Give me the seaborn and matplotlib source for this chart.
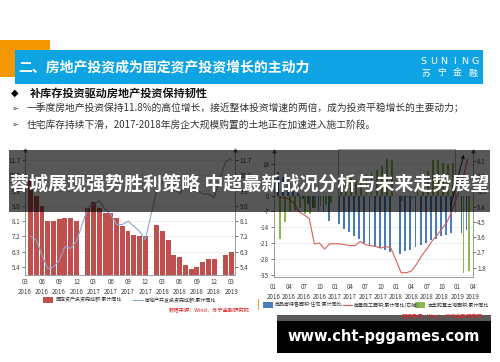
import matplotlib
matplotlib.use("Agg")
import matplotlib.pyplot as plt
import seaborn as sns
import pandas as pd
import numpy as np
from matplotlib.patches import Rectangle

sns.set_theme(style="white")
plt.rcParams['font.family'] = ['Noto Sans CJK SC', 'DejaVu Sans']
plt.rcParams['axes.unicode_minus'] = False

W, H = 500, 362

# ---------------- data ----------------
# left chart (monthly, Jan missing)
L_DATES = ['2016-04', '2016-05', '2016-06', '2016-07', '2016-08', '2016-09', '2016-10', '2016-11', '2016-12',
           '2017-02', '2017-03', '2017-04', '2017-05', '2017-06', '2017-07', '2017-08', '2017-09', '2017-10', '2017-11', '2017-12',
           '2018-02', '2018-03', '2018-04', '2018-05', '2018-06', '2018-07', '2018-08', '2018-09', '2018-10', '2018-11', '2018-12',
           '2019-02', '2019-03']
fai_yoy = [10.5, 9.6, 9.0, 8.1, 8.1, 8.2, 8.3, 8.3, 8.1,
           8.9, 9.2, 8.9, 8.6, 8.6, 8.3, 7.8, 7.5, 7.3, 7.2, 7.2,
           7.9, 7.5, 7.0, 6.1, 6.0, 5.5, 5.3, 5.4, 5.7, 5.9, 5.9,
           6.1, 6.3]
re_inv_yoy = [7.2, 7.0, 6.1, 5.3, 5.4, 5.8, 6.6, 6.5, 6.9,
              8.9, 9.1, 9.3, 8.8, 8.5, 7.9, 7.9, 8.1, 7.8, 7.5, 7.0,
              9.9, 10.4, 10.3, 10.2, 9.7, 10.2, 10.1, 9.9, 9.7, 9.7, 9.5,
              11.6, 11.8]
L_TICKS = ['03\n2016', '06\n2016', '09\n2016', '12\n2016', '03\n2017', '06\n2017', '09\n2017', '12\n2017',
           '03\n2018', '06\n2018', '09\n2018', '12\n2018', '03\n2019']
L_YTICKS = [5.4, 6.3, 7.2, 8.1, 9.0, 9.9, 10.8, 11.7]

# right chart
R_DATES = ['2016-02', '2016-03', '2016-04', '2016-05', '2016-06', '2016-07', '2016-08', '2016-09', '2016-10', '2016-11', '2016-12',
           '2017-02', '2017-03', '2017-04', '2017-05', '2017-06', '2017-07', '2017-08', '2017-09', '2017-10', '2017-11', '2017-12',
           '2018-02', '2018-03', '2018-04', '2018-05', '2018-06', '2018-07', '2018-08', '2018-09', '2018-10', '2018-11', '2018-12',
           '2019-02', '2019-03']
housing_stock_yoy = [10.6, 8.0, 5.8, 3.1, 1.0, -1.5, -3.5, -5.6, -7.0, -7.4, -11.0,
                     -12.5, -14.9, -15.9, -18.0, -19.1, -21.0, -22.1, -22.5, -23.3, -23.9, -25.0,
                     -25.9, -24.6, -24.0, -22.5, -21.8, -21.0, -19.6, -19.1, -18.0, -17.4, -16.6,
                     -16.3, -15.2]
land_purchase_yoy = [-19.2, -11.5, -6.8, -6.3, -5.5, -8.2, -8.2, -5.6, -4.5, -4.0, -3.4,
                     4.0, 5.8, 7.6, 6.4, 6.4, 9.5, 10.5, 11.5, 13.0, 16.3, 15.8,
                     -2.3, -0.6, -1.5, 3.0, 5.5, 11.0, 15.7, 15.7, 14.5, 14.0, 14.2,
                     -34.1, -33.1]
construction_yoy = [5.95, 5.9, 5.85, 5.6, 5.1, 4.9, 4.7, 3.2, 3.25, 2.9, 3.2,
                    3.2, 3.15, 3.1, 3.1, 3.35, 3.15, 3.1, 3.05, 2.95, 3.05, 2.95,
                    1.5, 1.5, 1.6, 2.0, 2.5, 2.9, 3.35, 3.7, 4.1, 4.5, 5.2,
                    6.9, 8.2]
R_TICKS = ['01\n2016', '04\n2016', '07\n2016', '10\n2016', '01\n2017', '04\n2017', '07\n2017', '10\n2017',
           '01\n2018', '04\n2018', '07\n2018', '10\n2018', '01\n2019', '04\n2019']
R_YTICKS_L = [-35, -28, -21, -14, -7, 0, 7, 14]
R_YTICKS_R = [1.8, 2.7, 3.6, 4.5, 5.4, 6.3, 7.2, 8.1]


def midx(d, origin):
    y, m = map(int, d.split('-'))
    oy, om = map(int, origin.split('-'))
    return (y - oy) * 12 + (m - om)


TICK_C = '#404040'
SPINE_C = '#8c8c8c'


def style_axis(ax):
    ax.tick_params(axis='both', labelsize=4.5, colors=TICK_C, length=2, width=0.5, pad=1.2)
    for s in ax.spines.values():
        s.set_color(SPINE_C)
        s.set_linewidth(0.6)


fig = plt.figure(figsize=(W / 100, H / 100), dpi=100)
fig.patch.set_facecolor('white')


def px_axes(x0, x1, ytop, ybot, **kw):
    return fig.add_axes([x0 / W, 1 - ybot / H, (x1 - x0) / W, (ybot - ytop) / H], **kw)


# ---------------- left chart ----------------
axL = px_axes(24.5, 235, 152, 275)
dfL = pd.DataFrame({'m': [midx(d, '2016-03') for d in L_DATES], 'fai': fai_yoy, 're': re_inv_yoy})
sns.barplot(data=dfL, x='m', y='fai', native_scale=True, width=0.86, color='#c0504d',
            saturation=1, ax=axL, edgecolor='none')
axL.set_xlim(-0.05, 36.65)
axL.set_ylim(4.93, 12.17)
axL.set_yticks(L_YTICKS)
axL.set_yticklabels([f'{v:.1f}' for v in L_YTICKS])
axL.set_xticks(range(0, 37, 3))
axL.set_xticklabels(L_TICKS, linespacing=1.35)
axL.set_xlabel('')
axL.set_ylabel('')
axL.yaxis.grid(True, color='#e6e6e6', lw=0.5)
axL.set_axisbelow(True)
style_axis(axL)
axL.tick_params(axis='x', length=0, pad=2)
axL.spines['top'].set_visible(False)
axL.spines['right'].set_visible(False)

axL2 = axL.twinx()
sns.lineplot(data=dfL, x='m', y='re', ax=axL2, color='#8ea6c8', lw=0.8)
axL2.set_ylim(4.93, 12.17)
axL2.set_xlim(-0.05, 36.65)
axL2.set_yticks(L_YTICKS)
axL2.set_yticklabels([f'{v:.1f}' for v in L_YTICKS])
axL2.set_ylabel('')
style_axis(axL2)
for s in ['top', 'left', 'bottom']:
    axL2.spines[s].set_visible(False)
for ax_, xpos in [(axL, 0), (axL2, 1)]:
    ax_.plot([xpos], [1.02], marker='^', ms=2.2, color='#666666', transform=ax_.transAxes, clip_on=False)

# ---------------- right chart ----------------
axR = px_axes(273.5, 472.7, 153, 277)
rm = np.array([midx(d, '2016-01') for d in R_DATES])
dfR = pd.DataFrame({'m_blue': rm - 0.2, 'm_green': rm + 0.2, 'stock': housing_stock_yoy,
                    'land': land_purchase_yoy, 'm': rm, 'cons': construction_yoy})
sns.barplot(data=dfR, x='m_blue', y='stock', native_scale=True, width=0.36, color='#4a7ebb',
            saturation=1, ax=axR, edgecolor='none')
sns.barplot(data=dfR, x='m_green', y='land', native_scale=True, width=0.36, color='#8db94c',
            saturation=1, ax=axR, edgecolor='none')
axR.set_xlim(0, 39)
axR.set_ylim(-35.9, 18.8)
axR.set_yticks(R_YTICKS_L)
axR.set_yticklabels([str(v) for v in R_YTICKS_L])
axR.set_xticks(range(0, 40, 3))
axR.set_xticklabels(R_TICKS, linespacing=1.35)
axR.set_xlabel('')
axR.set_ylabel('')
axR.yaxis.grid(True, color='#e6e6e6', lw=0.5)
axR.set_axisbelow(True)
style_axis(axR)
axR.tick_params(axis='x', length=2, pad=2)
axR.spines['top'].set_visible(False)
axR.spines['right'].set_visible(False)

axR2 = axR.twinx()
sns.lineplot(data=dfR, x='m', y='cons', ax=axR2, color='#d65f5a', lw=0.8)
axR2.set_xlim(0, 39)
axR2.set_ylim(1.25, 8.55)
axR2.set_yticks(R_YTICKS_R)
axR2.set_yticklabels([f'{v:.1f}' for v in R_YTICKS_R])
axR2.set_ylabel('')
style_axis(axR2)
for s in ['top', 'left', 'bottom']:
    axR2.spines[s].set_visible(False)
for ax_, xpos in [(axR, 0), (axR2, 1)]:
    ax_.plot([xpos], [1.02], marker='^', ms=2.2, color='#666666', transform=ax_.transAxes, clip_on=False)

# ---------------- layer under overlay band ----------------
under = fig.add_axes([0, 0, 1, 1], zorder=5)
under.set_xlim(0, W)
under.set_ylim(H, 0)
under.axis('off')
under.patch.set_alpha(0)
under.plot([338, 338, 455, 455], [212, 148.5, 148.5, 212], color='#9a9a9a', lw=0.6)
under.annotate('', xy=(464.5, 152), xytext=(450, 209),
               arrowprops=dict(arrowstyle='-|>', color='#202020', lw=0.7, mutation_scale=5))

# ---------------- overlay / page elements ----------------
ov = fig.add_axes([0, 0, 1, 1], zorder=10)
ov.set_xlim(0, W)
ov.set_ylim(H, 0)
ov.axis('off')
ov.patch.set_alpha(0)

# header
ov.add_patch(Rectangle((0, 40), 50, 37, color='#f39800', lw=0))
ov.add_patch(Rectangle((15, 50), 468, 34, color='#0ea4e4', lw=0))
ov.text(18, 67.5, '二、房地产投资成为固定资产投资增长的主动力', color='white', fontsize=10,
        fontweight='bold', va='center', ha='left')
for i, ch in enumerate('SUNING'):
    ov.text(423 + i * 10.4, 62, ch, color='white', fontsize=6.8, va='center', ha='center',
            family='DejaVu Sans')
for i, ch in enumerate('苏宁金融'):
    ov.text(426 + i * 15.6, 73, ch, color='white', fontsize=6.4, va='center', ha='center')

# bullets
ov.text(15, 93, '◆', fontsize=7, color='black', va='center', ha='center', family=['DejaVu Sans'])
ov.text(30, 93, '补库存投资驱动房地产投资保持韧性', fontsize=8, fontweight='bold', color='#111111',
        va='center', ha='left')
ov.text(15, 108.5, '➢', fontsize=6, color='#333333', va='center', ha='center', family=['DejaVu Sans'])
ov.text(27, 108.5, '一季度房地产投资保持11.8%的高位增长，接近整体投资增速的两倍，成为投资平稳增长的主要动力；',
        fontsize=7, color='#333333', va='center', ha='left')
ov.text(15, 124.5, '➢', fontsize=6, color='#333333', va='center', ha='center', family=['DejaVu Sans'])
ov.text(27, 124.5, '住宅库存持续下滑，2017-2018年房企大规模购置的土地正在加速进入施工阶段。',
        fontsize=7, color='#333333', va='center', ha='left')

# dark band with headline
ov.add_patch(Rectangle((9, 150), 481, 62, color='black', alpha=0.66, lw=0))
ov.text(250, 184, '蓉城展现强势胜利策略 中超最新战况分析与未来走势展望', color='white',
        fontsize=13.7, fontweight='bold', va='center', ha='center')

# left legend + source
ov.add_patch(Rectangle((43, 297), 10, 6, color='#c0504d', lw=0))
ov.text(55, 300, '固定资产投资完成额:累计同比', fontsize=3.6, color='#333333', va='center', ha='left')
ov.plot([133, 143], [300, 300], color='#8ea6c8', lw=0.8)
ov.text(145, 300, '房地产开发投资完成额:累计同比', fontsize=3.6, color='#333333', va='center', ha='left')
ov.text(250, 310, '数据来源：Wind，苏宁金融研究院', fontsize=3.8, color='#e02020', va='center', ha='right',
        style='italic')

ov.plot([257.5, 257.5], [299, 309], color='#f0a040', lw=0.8)

# right legend + source
ov.add_patch(Rectangle((263, 302), 10, 6, color='#4a7ebb', lw=0))
ov.text(275, 305, '商品房待售面积:住宅:累计同比', fontsize=3.6, color='#333333', va='center', ha='left')
ov.plot([343, 352], [305, 305], color='#d65f5a', lw=0.8)
ov.text(354, 305, '房屋施工面积:累计同比(右轴)', fontsize=3.6, color='#333333', va='center', ha='left')
ov.add_patch(Rectangle((415, 302), 10, 6, color='#8db94c', lw=0))
ov.text(428, 305, '本年购置土地面积:累计同比', fontsize=3.6, color='#333333', va='center', ha='left')

# watermark box
ov.add_patch(Rectangle((277, 315), 214, 38, color='black', lw=0))
ov.add_patch(Rectangle((277, 315), 214, 5.5, color='#5a5a5a', lw=0))
ov.text(483, 316.5, '数据来源：Wind，苏宁金融研究院', fontsize=3.8, color='#e02020', va='center', ha='right',
        style='italic')
ov.text(384, 336, 'www.cht-pggames.com', color='white', fontsize=10.5, fontweight='bold',
        va='center', ha='center', family=['DejaVu Sans'])

fig.savefig('out.png', dpi=100, facecolor='white')
